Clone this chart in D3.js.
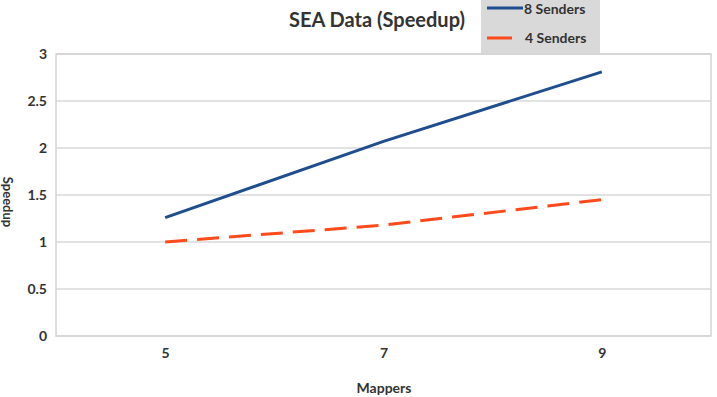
<!DOCTYPE html>
<html><head><meta charset="utf-8">
<script src="https://cdn.jsdelivr.net/npm/d3@7"></script>
<style>body{margin:0;background:#fff}svg{display:block}text{font-family:Lato,"Open Sans",sans-serif;font-weight:bold;fill:#333}</style>
</head><body>
<script>
const categories = ["5","7","9"];
const senders8 = [1.26, 2.07, 2.81];
const senders4 = [1.0, 1.18, 1.45];
const yTicks = [0,0.5,1,1.5,2,2.5,3];
const seriesNames = ["8 Senders","4 Senders"];

const W=717,H=397;
const m={left:56,right:6,top:54,bottom:61};
const svg=d3.select("body").append("svg").attr("width",W).attr("height",H);
const x=d3.scalePoint().domain(categories).range([m.left,W-m.right]).padding(0.5);
const y=d3.scaleLinear().domain([0,3]).range([H-m.bottom,m.top]);

// gridlines
svg.append("g").selectAll("line").data(yTicks).join("line")
  .attr("x1",m.left).attr("x2",W-m.right).attr("y1",d=>y(d)).attr("y2",d=>y(d))
  .attr("stroke","#d9d9d9").attr("stroke-width",1.5);
svg.append("rect").attr("x",m.left).attr("y",m.top).attr("width",W-m.right-m.left).attr("height",H-m.bottom-m.top)
  .attr("fill","none").attr("stroke","#d4d4d4").attr("stroke-width",1.5);

const ya=svg.append("g").attr("transform",`translate(${m.left},0)`).call(d3.axisLeft(y).tickValues(yTicks).tickSize(0).tickPadding(9).tickFormat(d3.format("")));
ya.select(".domain").remove();
ya.selectAll("text").style("font-size","14px").attr("fill","#333");
const xa=svg.append("g").attr("transform",`translate(0,${H-m.bottom})`).call(d3.axisBottom(x).tickSize(0).tickPadding(12));
xa.select(".domain").remove();
xa.selectAll("text").style("font-size","14px").attr("fill","#333");

const line=d3.line().x((d,i)=>x(categories[i])).y(d=>y(d));
svg.append("path").datum(senders8).attr("d",line).attr("fill","none").attr("stroke","#1f4e8f").attr("stroke-width",3);
svg.append("path").datum(senders4).attr("d",line).attr("fill","none").attr("stroke","#ff4a1c").attr("stroke-width",3).attr("stroke-dasharray","22,10");

svg.append("text").attr("x",377).attr("y",27).attr("text-anchor","middle").style("font-size","20px").text("SEA Data (Speedup)");
svg.append("text").attr("x",384).attr("y",393).attr("text-anchor","middle").style("font-size","14px").text("Mappers");
svg.append("text").attr("transform","translate(3,202) rotate(90)").attr("text-anchor","middle").style("font-size","13px").text("Speedup");

// legend
const lg=svg.append("g");
lg.append("rect").attr("x",481).attr("y",-2).attr("width",119).attr("height",55).attr("fill","#d9d9d9");
lg.append("line").attr("x1",487).attr("x2",523).attr("y1",8).attr("y2",8).attr("stroke","#1f4e8f").attr("stroke-width",3);
lg.append("line").attr("x1",487).attr("x2",512).attr("y1",38).attr("y2",38).attr("stroke","#ff4a1c").attr("stroke-width",3);
lg.append("text").attr("x",524).attr("y",14).style("font-size","14px").text(seriesNames[0]);
lg.append("text").attr("x",525).attr("y",43).style("font-size","14px").text(seriesNames[1]);
</script>
</body></html>
